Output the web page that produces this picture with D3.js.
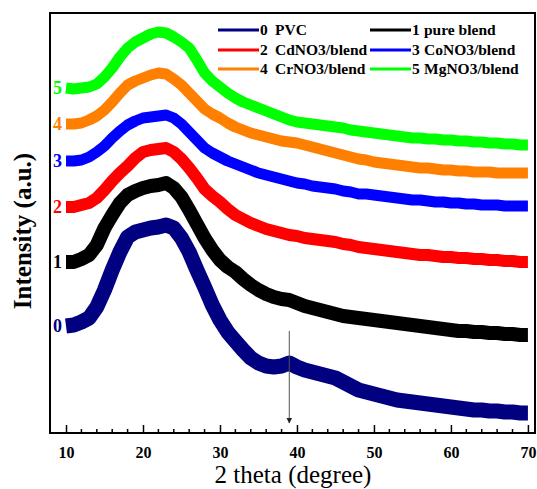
<!DOCTYPE html>
<html>
<head>
<meta charset="utf-8">
<script src="https://cdn.jsdelivr.net/npm/d3@7"></script>
<style>
  body { margin: 0; background: #fff; }
</style>
</head>
<body>
<script>
// 2 theta grid (degree)
const theta = d3.range(10, 71, 1)

// intensity (a.u., stacked offsets as in the figure)
const pvc = [107,108,111,115,126,143,163,181,196,201,203,205,206,208,205,195,181,163,146,128,113,101,92,83,75,70,67,66,67,70,66,63,61,59,57,55,51,47,43,41,39,37,35,33,32,31,30,29,28,27,26,25,24,23,23,22,22,21,21,20,20]
const pureBlend = [171,171,174,178,188,205,218,230,238,242,245,247,248,250,245,236,223,209,195,183,173,166,161,154,148,143,139,136,134,133,130,127,125,123,121,119,117,116,115,114,113,112,111,110,109,108,107,106,105,104,103,102,102,101,101,100,100,99,99,98,98]
const cdBlend = [226,226,228,230,235,243,252,260,267,275,281,283,284,285,281,274,265,255,244,237,231,224,218,214,210,207,204,202,200,198,197,195,194,193,192,191,189,188,186,185,184,183,182,181,180,179,178,178,177,176,176,175,175,174,174,173,173,172,172,171,171]
const coBlend = [272,272,273,276,281,287,295,302,308,312,315,316,317,318,315,309,301,293,285,280,276,272,269,266,263,260,258,256,254,252,250,249,247,246,245,244,242,241,239,239,238,237,236,235,234,233,233,232,231,231,230,230,229,229,228,228,228,227,227,227,227]
const crBlend = [309,309,310,313,317,323,331,340,348,352,355,358,360,359,354,348,340,332,324,319,315,310,306,303,300,298,296,294,292,291,290,288,286,284,282,280,278,276,274,273,271,270,269,268,267,266,265,265,264,263,263,262,262,261,261,261,260,260,260,260,260]
const mgBlend = [345,344,345,346,349,356,365,376,385,391,395,399,401,400,396,391,385,373,360,352,346,340,335,331,328,325,322,319,316,313,311,310,309,308,307,306,305,303,302,301,300,299,298,297,296,295,295,294,294,293,293,292,292,291,291,290,290,289,289,288,288]

const seriesNames = ["PVC", "pure blend", "CdNO3/blend", "CoNO3/blend", "CrNO3/blend", "MgNO3/blend"]
const seriesValues = [pvc, pureBlend, cdBlend, coBlend, crBlend, mgBlend]
const colors = ["#000080", "#000000", "#ff0000", "#0000ff", "#ff8000", "#00ff00"]
const widths = [15, 14, 12, 11, 11, 11]

const xTicks = [10, 20, 30, 40, 50, 60, 70]
const minorTicks = d3.range(12, 70, 2).filter(d => d % 10 != 0)
const arrowAt = 39

const width = 537, height = 489
const margin = {left: 50, right: 1, top: 13, bottom: 56}
const serif = "Liberation Serif, Times New Roman, serif"

let svg = d3.select("body").append("svg")
  .attr("width", width)
  .attr("height", height)
  .attr("font-family", serif)

let x = d3.scaleLinear().domain([7.92, 71.05]).range([margin.left, width - margin.right])
let y = d3.scaleLinear().domain([0, 420]).range([height - margin.bottom, margin.top])

// curves
let line = d3.line()
  .x((d, i) => x(theta[i]))
  .y(d => y(d))

let curves = svg.append("g")
seriesValues.forEach((vals, k) => {
  curves.append("path")
    .attr("d", line(vals))
    .attr("fill", "none")
    .attr("stroke", colors[k])
    .attr("stroke-width", widths[k])
    .attr("stroke-linejoin", "round")
    .attr("stroke-linecap", "butt")
})

// series numbers on the left
seriesValues.forEach((vals, k) => {
  svg.append("text")
    .attr("x", 53)
    .attr("y", y(vals[0]) + 6)
    .attr("fill", colors[k])
    .attr("font-family", serif)
    .attr("font-size", 18)
    .attr("font-weight", "bold")
    .text(k)
})

// arrow at the PVC shoulder
svg.append("defs").append("marker")
  .attr("id", "arrowhead")
  .attr("viewBox", "0 0 10 10")
  .attr("refX", 9).attr("refY", 5)
  .attr("markerWidth", 6).attr("markerHeight", 8)
  .attr("orient", "auto")
  .append("path")
    .attr("d", "M0,0 L10,5 L0,10 z")
    .attr("fill", "#222")

svg.append("line")
  .attr("x1", x(arrowAt)).attr("x2", x(arrowAt))
  .attr("y1", 331).attr("y2", 423)
  .attr("stroke", "#555")
  .attr("stroke-width", 1)
  .attr("marker-end", "url(#arrowhead)")

// bottom axis, ticks inward
let xAxis = d3.axisBottom(x).tickValues(xTicks).tickSizeInner(-8).tickSizeOuter(0).tickPadding(14)
let gx = svg.append("g")
  .attr("transform", `translate(0,${height - margin.bottom})`)
  .call(xAxis)
  .attr("font-family", serif)
gx.select(".domain").remove()
gx.selectAll(".tick line").attr("stroke", "#000").attr("stroke-width", 1.5)
gx.selectAll(".tick text")
  .attr("font-family", serif)
  .attr("font-size", 16)
  .attr("font-weight", "bold")
  .attr("fill", "#000")

svg.append("g").selectAll("line")
  .data(minorTicks)
  .enter()
  .append("line")
    .attr("x1", d => x(d)).attr("x2", d => x(d))
    .attr("y1", height - margin.bottom).attr("y2", height - margin.bottom - 4)
    .attr("stroke", "#000")
    .attr("stroke-width", 1.5)

// frame
svg.append("rect")
  .attr("x", margin.left)
  .attr("y", margin.top)
  .attr("width", width - margin.right - margin.left - 1)
  .attr("height", height - margin.bottom - margin.top)
  .attr("fill", "none")
  .attr("stroke", "#000")
  .attr("stroke-width", 2)

// axis titles
svg.append("text")
  .attr("x", 293)
  .attr("y", 483)
  .attr("text-anchor", "middle")
  .attr("font-family", serif)
  .attr("font-size", 25)
  .text("2 theta (degree)")

svg.append("text")
  .attr("transform", "translate(31,231) rotate(-90)")
  .attr("text-anchor", "middle")
  .attr("font-family", serif)
  .attr("font-size", 25)
  .attr("font-weight", "bold")
  .text("Intensity (a.u.)")

// legend
let legendCols = [218, 370]
let legendRows = [30, 50, 69]
seriesNames.forEach((name, k) => {
  let lx = legendCols[k % 2]
  let ly = legendRows[Math.floor(k / 2)]
  let g = svg.append("g").attr("transform", `translate(${lx},${ly})`)
  g.append("line")
    .attr("x1", 0).attr("x2", 41)
    .attr("stroke", colors[k])
    .attr("stroke-width", 3)
  g.append("text")
    .attr("x", 42).attr("y", 5)
    .attr("font-family", serif)
    .attr("font-size", 15.5)
    .attr("font-weight", "bold")
    .text(k)
  g.append("text")
    .attr("x", k % 2 == 0 ? 57 : 54).attr("y", 5)
    .attr("font-family", serif)
    .attr("font-size", 15.5)
    .attr("font-weight", "bold")
    .text(name)
})
</script>
</body>
</html>
